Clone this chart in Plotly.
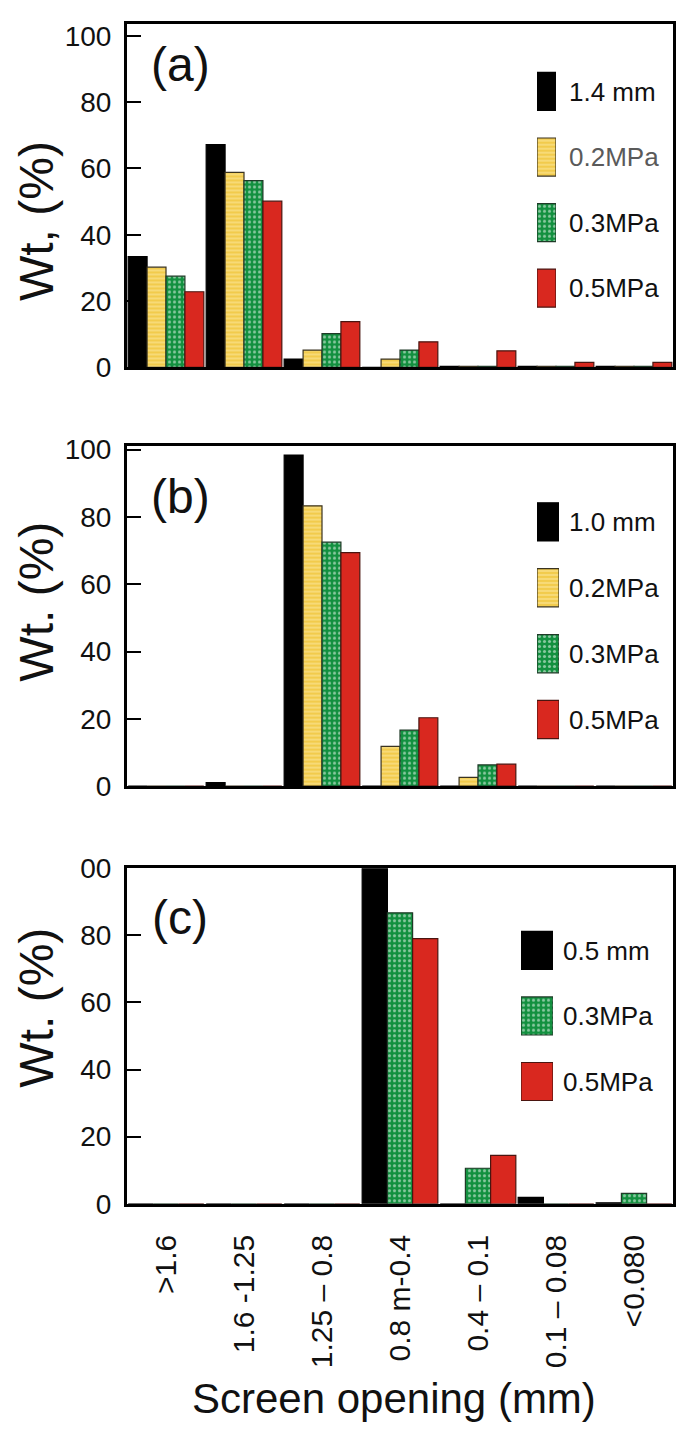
import plotly.graph_objects as go

# ---------------- data ----------------
categories = [">1.6", "1.6 -1.25", "1.25 \u2013 0.8", "0.8 m-0.4", "0.4 \u2013 0.1", "0.1 \u2013 0.08", "<0.080"]

# panel (a) : 1.4 mm
a_names = ["1.4 mm", "0.2MPa", "0.3MPa", "0.5MPa"]
a_ref = [33.4, 67.2, 2.5, 0.0, 0.3, 0.3, 0.3]
a_02 = [30.2, 58.8, 5.2, 2.5, 0.3, 0.3, 0.3]
a_03 = [27.5, 56.3, 10.2, 5.2, 0.3, 0.3, 0.3]
a_05 = [22.8, 50.1, 13.8, 7.7, 5.0, 1.5, 1.5]

# panel (b) : 1.0 mm
b_names = ["1.0 mm", "0.2MPa", "0.3MPa", "0.5MPa"]
b_ref = [0.0, 1.0, 98.4, 0.0, 0.0, 0.0, 0.0]
b_02 = [0.0, 0.0, 83.3, 11.8, 2.6, 0.0, 0.0]
b_03 = [0.0, 0.0, 72.5, 16.6, 6.3, 0.0, 0.0]
b_05 = [0.0, 0.0, 69.4, 20.3, 6.5, 0.0, 0.0]

# panel (c) : 0.5 mm
c_names = ["0.5 mm", "0.3MPa", "0.5MPa"]
c_ref = [0.0, 0.0, 0.0, 100.0, 0.0, 1.9, 0.3]
c_03 = [0.0, 0.0, 0.0, 86.7, 10.6, 0.0, 3.1]
c_05 = [0.0, 0.0, 0.0, 79.0, 14.4, 0.0, 0.0]

y_tickvals = [0, 20, 40, 60, 80, 100]
y_ticktext_ab = ["0", "20", "40", "60", "80", "100"]
y_ticktext_c = ["0", "20", "40", "60", "80", "00"]

# ---------------- styles ----------------
FONT = "Liberation Sans, Arial, Helvetica, sans-serif"
PAGE_OFF = 8                 # default page margin around the figure
W, H = 685 - PAGE_OFF, 1436 - PAGE_OFF
TXT = "#111111"

STYLE = {
    "ref": dict(color="#000000", line=dict(color="#000000", width=1.2)),
    "0.2": dict(color="#F4D058", line=dict(color="#3a3320", width=1.2),
                pattern=dict(shape="-", fgcolor="#FFF2B8", bgcolor="#F2CB4C", size=4, solidity=0.4)),
    "0.3": dict(color="#12903F", line=dict(color="#203a28", width=1.2),
                pattern=dict(shape=".", fgcolor="#FFFFFF", bgcolor="#12903F", size=5, solidity=0.3)),
    "0.5": dict(color="#D9281F", line=dict(color="#4a1510", width=1.2)),
}

def px_x(p):
    return (p - PAGE_OFF) / W

def px_y(p):
    return 1 - (p - PAGE_OFF) / H

fig = go.Figure()

panels = [
    ("", list(zip(["ref", "0.2", "0.3", "0.5"], a_names, [a_ref, a_02, a_03, a_05]))),
    ("2", list(zip(["ref", "0.2", "0.3", "0.5"], b_names, [b_ref, b_02, b_03, b_05]))),
    ("3", list(zip(["ref", "0.3", "0.5"], c_names, [c_ref, c_03, c_05]))),
]

for s, series in panels:
    for key, name, vals in series:
        fig.add_trace(go.Bar(
            x=categories, y=vals, name=name, xaxis="x" + s, yaxis="y" + s,
            marker=STYLE[key], showlegend=False, hoverinfo="x+y+name",
        ))

# legend swatches as horizontal bars on small axes, labels as axis tick labels
legend_sets = [
    ("4", ["ref", "0.2", "0.3", "0.5"], a_names),
    ("5", ["ref", "0.2", "0.3", "0.5"], b_names),
    ("6", ["ref", "0.3", "0.5"], c_names),
]
for ax, keys, names in legend_sets:
    for key, name in zip(keys, names):
        fig.add_trace(go.Bar(
            x=[1], y=[name], orientation="h", width=0.58, offsetgroup="L",
            xaxis="x" + ax, yaxis="y" + ax, marker=STYLE[key],
            showlegend=False, hoverinfo="skip",
        ))

x_dom = [px_x(127), px_x(673)]
y_doms = {
    "": [px_y(360), px_y(9.5)],
    "2": [px_y(788), px_y(440)],
    "3": [px_y(1215), px_y(872)],
}
y_ranges = {"": [0, 103.4], "2": [0, 101.2], "3": [0, 100]}

layout = dict(
    width=W, height=H, margin=dict(l=0, r=0, t=0, b=0),
    plot_bgcolor="white", paper_bgcolor="white",
    barmode="group", bargap=0.03, bargroupgap=0.0,
    font=dict(family=FONT, color=TXT),
    showlegend=False,
)

for s in ["", "2", "3"]:
    layout["xaxis" + s] = dict(
        domain=x_dom, anchor="y" + s, type="category", range=[-0.5, 6.5],
        showline=True, mirror=True, linewidth=3, linecolor="black",
        ticks="", showgrid=False, zeroline=False,
        showticklabels=(s == "3"), tickangle=-90,
        tickfont=dict(size=30, family=FONT, color=TXT),
        ticklabelstandoff=16,
    )
    layout["yaxis" + s] = dict(
        domain=y_doms[s], anchor="x" + s, range=y_ranges[s],
        tickvals=y_tickvals, ticktext=(y_ticktext_c if s == "3" else y_ticktext_ab),
        ticks="inside", ticklen=14, tickwidth=2, tickcolor="black",
        showline=True, mirror=True, linewidth=3, linecolor="black",
        showgrid=False, zeroline=False,
        tickfont=dict(size=28, family=FONT, color=TXT),
        ticklabelstandoff=7,
    )

leg_geo = {
    "4": ([537, 556], [44.5, 312.5], 12),
    "5": ([537, 559], [484.3, 753.7], 9),
    "6": ([521, 553], [922.5, 1123.5], 9),
}
for ax, keys, names in legend_sets:
    (xl, xr), (yt, yb), gap = leg_geo[ax]
    texts = list(names)
    if ax == "4":
        texts[1] = '<span style="color:#5a5a5a">' + names[1] + "</span>"
    layout["xaxis" + ax] = dict(domain=[px_x(xl), px_x(xr)], anchor="y" + ax, range=[0, 1],
                                visible=False, fixedrange=True)
    layout["yaxis" + ax] = dict(domain=[px_y(yb), px_y(yt)], anchor="x" + ax, type="category",
                                categoryorder="array", categoryarray=names, autorange="reversed",
                                tickmode="array", tickvals=names, ticktext=texts,
                                side="right", showline=False, ticks="", showgrid=False,
                                zeroline=False, fixedrange=True,
                                tickfont=dict(size=26, family=FONT, color=TXT),
                                ticklabelstandoff=gap)

annotations = []
for label, cy in [("(a)", 50), ("(b)", 492), ("(c)", 922)]:
    annotations.append(dict(text=label, x=px_x(180), y=px_y(cy), xref="paper", yref="paper",
                            showarrow=False, font=dict(size=48, family=FONT, color=TXT),
                            xanchor="center", yanchor="middle"))
for label, cy in [("Wt, (%)", 211), ("Wt. (%)", 600), ("Wt. (%)", 1015)]:
    annotations.append(dict(text=label, x=0, y=px_y(cy), xref="paper", yref="paper",
                            showarrow=False, textangle=-90,
                            font=dict(size=48, family=FONT, color=TXT),
                            xanchor="left", yanchor="middle"))
annotations.append(dict(text="Screen opening (mm)", x=px_x(394), y=px_y(1414), xref="paper", yref="paper",
                        showarrow=False, font=dict(size=42, family=FONT, color=TXT),
                        xanchor="center", yanchor="middle"))
layout["annotations"] = annotations

fig.update_layout(**layout)
fig.write_html("out.html")
